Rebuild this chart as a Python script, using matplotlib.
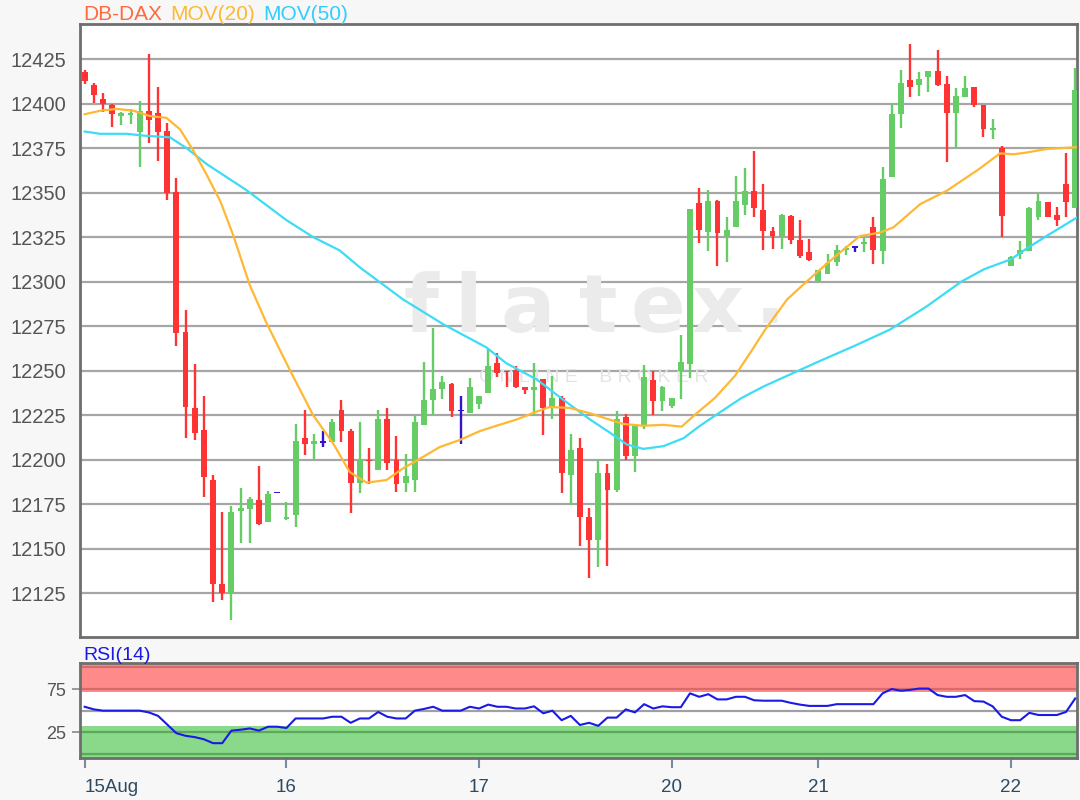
import matplotlib
matplotlib.use('Agg')
import matplotlib.pyplot as plt
import numpy as np

# hourly candles, 15 Aug - 22 Aug
opens = [12418, 12410.5, 12402.5, 12399, 12393, 12393.5, 12384, 12396, 12394.5, 12384.5,
         12350.5, 12271.5, 12229, 12216.5, 12188.5, 12130, 12125, 12171, 12172, 12177,
         12165, 12181.5, 12166.5, 12169, 12212, 12209, 12210, 12210, 12228, 12216,
         12187, 12200, 12194, 12222.5, 12200, 12187, 12188.5, 12219.5, 12233.5, 12239.5,
         12242.5, 12227.5, 12226, 12231, 12237.5, 12254, 12250, 12250.5, 12240.5, 12239,
         12245, 12229, 12234.5, 12191.5, 12206.5, 12167.5, 12155, 12192.5, 12183, 12224,
         12202, 12219, 12244.5, 12233, 12230, 12249.5, 12253.5, 12344, 12328, 12345.5,
         12325.5, 12330.5, 12343, 12351, 12340, 12328.5, 12325.5, 12337, 12323.5, 12316.5,
         12300.5, 12304.5, 12311, 12317.5, 12319.3, 12321, 12330.5, 12317, 12358.5, 12394,
         12413, 12410.5, 12415, 12418.5, 12411, 12394.5, 12403.5, 12409.5, 12399, 12385,
         12375, 12309, 12315.5, 12317, 12336.5, 12344.5, 12337.5, 12355, 12341.5]
highs = [12419, 12411.5, 12406, 12400, 12395, 12397, 12401.7, 12428, 12409.5, 12389,
         12358, 12284, 12253.5, 12235.5, 12191.5, 12170.5, 12174, 12184, 12179, 12196.5,
         12182.5, 12181.5, 12176, 12220, 12228, 12214.5, 12216, 12222.5, 12233.5, 12217,
         12221, 12206.5, 12228, 12229, 12213.5, 12203, 12224.5, 12255, 12274, 12247,
         12243, 12235.5, 12246, 12235.5, 12262, 12260, 12250, 12252.5, 12240.5, 12254,
         12245, 12247, 12235.5, 12214.5, 12212, 12172.5, 12200, 12197.5, 12227, 12225.5,
         12220, 12253, 12249.5, 12241.5, 12234.5, 12270, 12341, 12352.5, 12351.5, 12346,
         12336.5, 12359.5, 12364, 12373.5, 12355, 12330.5, 12338, 12337.5, 12334.5, 12324,
         12306.5, 12315.5, 12320.5, 12320, 12319.3, 12324.5, 12336.5, 12364.5, 12400, 12419,
         12433.5, 12418, 12418.5, 12430, 12415.5, 12408.5, 12415.5, 12409.5, 12399, 12391.5,
         12376, 12314.5, 12323, 12342, 12349, 12344.5, 12342, 12372, 12420]
lows = [12411, 12400.5, 12395, 12387, 12388, 12388.5, 12364.5, 12378, 12368, 12346,
        12264, 12212, 12211, 12179, 12120, 12121, 12110, 12153, 12153, 12163,
        12165, 12181.5, 12166, 12162, 12202.5, 12200.5, 12207, 12210, 12210, 12170,
        12181, 12186, 12194, 12194, 12181.5, 12181.5, 12182, 12219.5, 12225, 12234,
        12224, 12209, 12226, 12228.5, 12237.5, 12246.5, 12240.5, 12240, 12237, 12225,
        12214, 12222.5, 12181, 12174.5, 12151.5, 12133.5, 12139.5, 12140, 12182, 12200,
        12193, 12217, 12225, 12227, 12229, 12234, 12246, 12321.5, 12317, 12308.5,
        12311, 12330.5, 12337.5, 12336, 12318, 12318.5, 12318.5, 12321, 12313, 12311.5,
        12300, 12304.5, 12308.5, 12315, 12316.4, 12316.5, 12310, 12310, 12358.5, 12386.5,
        12403.5, 12404, 12406.5, 12410, 12367, 12375.5, 12403.5, 12398, 12381, 12380,
        12325, 12308.5, 12312.5, 12317, 12334.5, 12336, 12331, 12336.5, 12341.5]
closes = [12412.5, 12405, 12400, 12394, 12394.5, 12394.5, 12396, 12390.5, 12384, 12349.5,
          12271, 12229.5, 12215, 12190, 12130, 12125, 12170.5, 12172.5, 12178, 12164,
          12180.5, 12181.5, 12168, 12210.5, 12208.5, 12210.5, 12210, 12221, 12216, 12187,
          12200, 12199, 12223, 12198, 12186.5, 12190.5, 12221, 12233.5, 12239.5, 12243.5,
          12227, 12227.5, 12240.5, 12235.5, 12252.5, 12248.5, 12249, 12240.5, 12239, 12241,
          12229, 12234.5, 12192.5, 12205.5, 12167.5, 12155, 12192.5, 12183, 12222.5, 12202,
          12219, 12246.5, 12233, 12240.5, 12234.5, 12255, 12340.5, 12329, 12345.5, 12327.5,
          12329, 12345, 12351, 12341.5, 12328.5, 12325.5, 12337.5, 12323.5, 12314.5, 12312,
          12306.5, 12310.5, 12317.5, 12319, 12319.3, 12322.5, 12317.5, 12357.5, 12394, 12411.5,
          12409.5, 12414, 12418.5, 12410.5, 12394.5, 12404, 12408.5, 12399, 12385.5, 12386,
          12337, 12314, 12318, 12341.5, 12345, 12336, 12334.5, 12344.5, 12407.5]

# moving averages (candle position, value)
ma20_x = [0, 1.7, 3.5, 5.3, 7.1, 8.9, 10.4, 11.8, 13.3, 14.8, 16.2, 18, 19.8, 22.4, 24.9,
          27.1, 28.9, 30.75, 32.9, 34.7, 36.9, 38.7, 40.9, 43.1, 44.9, 47.1, 49.3, 50.7,
          52.9, 55.1, 56.9, 58.7, 60.9, 63.1, 65.1, 66.5, 68.7, 70.9, 72.7, 74.2, 76.6,
          78.4, 80.9, 84.5, 86.7, 88.2, 91.1, 94, 97.6, 99.8, 101.3, 102.7, 104.9, 108.2]
ma20_y = [12394, 12396, 12397, 12396, 12393, 12392, 12385.5, 12374, 12360, 12345, 12326,
          12298, 12277, 12250, 12225, 12209, 12193, 12187, 12188.5, 12195, 12201.5, 12207,
          12211, 12216, 12219, 12222.5, 12227, 12229.5, 12229, 12226, 12223, 12220, 12219,
          12219.5, 12218.5, 12225, 12234.5, 12247, 12261, 12273, 12290, 12298.5, 12310,
          12325.5, 12327.5, 12330.5, 12343.5, 12351, 12363.5, 12372, 12371.5, 12372.5,
          12374.5, 12375.5]
ma50_x = [0, 1.7, 4.6, 6.4, 9.3, 11.1, 13.3, 17.6, 22, 24.9, 27.8, 30, 34.7, 39.1, 43.8,
          46, 49.3, 52.2, 55.1, 57.3, 59.1, 60.9, 63.1, 65.3, 67.1, 69.4, 71.6, 74, 80,
          84, 87.8, 91.8, 95.6, 98.1, 101, 102.7, 104.7, 108.2]
ma50_y = [12384.3, 12383, 12383, 12382, 12381, 12375, 12366, 12351.5, 12334.5, 12325,
          12317.5, 12308, 12290, 12276, 12263, 12254, 12245, 12233.5, 12222.5, 12215,
          12208.5, 12206, 12207.5, 12212, 12219, 12227, 12234.5, 12241, 12255, 12264,
          12273, 12286, 12300, 12307, 12312.5, 12318.5, 12325, 12336]

rsi = [54.5, 51.5, 50, 50, 50, 50, 50, 48, 44, 34, 24, 21, 19.5, 17, 12.5, 12.5, 27, 28,
       29.5, 27, 31.5, 31.5, 30, 41, 41, 41, 41, 43, 43, 36, 41, 41, 48.5, 43, 41, 41, 50,
       52, 54.5, 50, 50, 50, 54.5, 52.5, 57, 54.5, 54.5, 52.5, 52.5, 55, 47, 50, 39, 44,
       33.5, 36, 32.5, 42, 42, 51.5, 48, 57.5, 52.5, 55, 54, 54, 70, 66, 69, 63, 63, 66,
       66, 62, 61.5, 61.5, 61.5, 59, 57, 55.5, 55.5, 55.5, 57.5, 57.5, 57.5, 57.5, 57.5,
       70, 75, 73, 74, 75.5, 75.5, 68, 66, 66, 68, 61, 60.5, 55, 43, 39, 39, 47.5, 45, 45,
       45, 48.5, 64]

day_pos = [0, 22, 43, 64, 80, 101]
day_labels = ['15Aug', '16', '17', '20', '21', '22']
price_ticks = list(range(12125, 12426, 25))

RED = '#ff3333'
GREEN = '#66cc66'
BLUE = '#3314cc'
GRID = '#a6a6a6'
FRAME = '#6e6e6e'

plt.rcParams['font.family'] = ['Liberation Sans', 'DejaVu Sans']

fig = plt.figure(figsize=(10.8, 8.0), dpi=100, facecolor='#f7f7f7')
ax = fig.add_axes([80 / 1080, 1 - 637 / 800, 997 / 1080, 613 / 800])
ax2 = fig.add_axes([80 / 1080, 1 - 758 / 800, 997 / 1080, 95 / 800])

# ---- main price panel
o = np.array(opens)
h = np.array(highs)
l = np.array(lows)
c = np.array(closes)
x = np.arange(len(o))
cols = np.where(c > o, GREEN, np.where(c < o, RED, BLUE))
size = np.abs(c - o)
bottom = np.where(size < 0.9, (o + c) / 2 - 0.45, np.minimum(o, c))
height = np.maximum(size, 0.9)

ax.vlines(x, l, h, colors=cols, linewidth=1.7, zorder=3)
ax.bar(x, height, bottom=bottom, width=0.64, color=cols, linewidth=0, zorder=4)

ax.plot(ma50_x, ma50_y, color='#3ddcf5', lw=1.6, zorder=5)
ax.plot(ma20_x, ma20_y, color='#ffb833', lw=1.6, zorder=6)

# watermark (pixel columns converted to candle positions)
def px2x(px):
    return (px - 80) / 997 * 108.71 - 0.51

for ch, px in zip('flatex', [421, 468, 528, 598, 658, 718]):
    ax.text(px2x(px), 12284, ch, fontsize=58, color='#ebebeb', ha='center', va='center',
            family='DejaVu Sans', fontweight='bold', zorder=1)
ax.text(px2x(770), 12289, '.', fontsize=58, color='#ebebeb', ha='center', va='center',
        family='DejaVu Sans', fontweight='bold', zorder=1)
ax.text(px2x(594), 12246, 'O N L I N E    B R O K E R', fontsize=14,
        color='#e4e4e4', ha='center', va='center', zorder=1)

ax.set_xlim(-0.51, 108.2)
ax.set_ylim(12100.3, 12444.7)
ax.set_yticks(price_ticks)
ax.set_yticklabels([str(v) for v in price_ticks])
ax.grid(axis='y', color=GRID, lw=1.6, zorder=0)
ax.set_axisbelow(True)
ax.tick_params(axis='y', length=0, pad=10, labelsize=14.5, labelcolor='#555555')
ax.tick_params(axis='x', bottom=False, labelbottom=False)
ax.set_facecolor('white')
for s in ax.spines.values():
    s.set_color(FRAME)
    s.set_linewidth(2)

fig.text(83 / 1080, 1 - 14 / 800, 'DB-DAX', color='#ff6a3d', fontsize=15, va='center')
fig.text(170 / 1080, 1 - 14 / 800, 'MOV(20)', color='#ffb833', fontsize=15, va='center')
fig.text(263 / 1080, 1 - 14 / 800, 'MOV(50)', color='#33ccff', fontsize=15, va='center')

# ---- RSI panel
ax2.set_facecolor('white')
ax2.axhspan(72, 106, color='#ff8a8a', lw=0, zorder=0)
ax2.axhspan(-6, 32, color='#8ad88a', lw=0, zorder=0)
for lvl, col in [(100, '#d86a6a'), (75, '#d86a6a'), (50, '#a0a0a0'), (25, '#5aaa5a'), (0, '#5aaa5a')]:
    ax2.axhline(lvl, color=col, lw=1.6, zorder=1)
ax2.plot(x, rsi, color='#1a1ae6', lw=1.5, zorder=3)
ax2.set_xlim(-0.51, 108.2)
ax2.set_ylim(-4.6, 105)
ax2.set_yticks([25, 75])
ax2.set_yticklabels(['25', '75'])
ax2.tick_params(axis='y', length=6, width=1.2, color='#888888', pad=4, labelsize=13,
                labelcolor='#555555')
ax2.set_xticks(day_pos)
ax2.set_xticklabels(day_labels)
ax2.tick_params(axis='x', length=7, width=1.5, color='#7a8a9a', pad=8, labelsize=13.5,
                labelcolor='#2e4a62')
first = ax2.get_xticklabels()[0]
first.set_ha('left')
for s in ax2.spines.values():
    s.set_color(FRAME)
    s.set_linewidth(2)

fig.text(83 / 1080, 1 - 655 / 800, 'RSI(14)', color='#1a1ae6', fontsize=14, va='center')

fig.savefig('out.png', dpi=100, facecolor=fig.get_facecolor())
